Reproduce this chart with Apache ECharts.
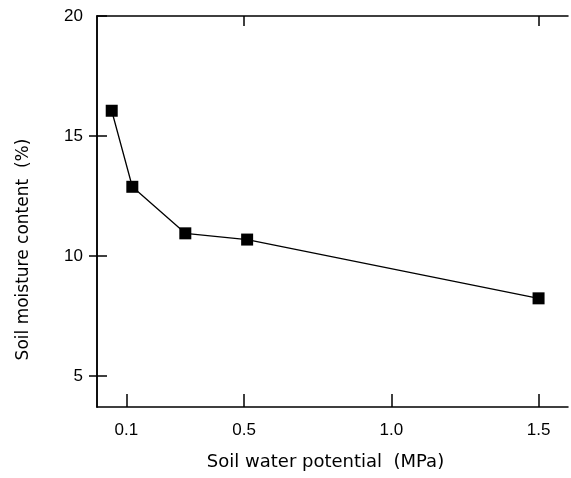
<!DOCTYPE html>
<html>
<head>
<meta charset="utf-8">
<script src="https://cdn.jsdelivr.net/npm/echarts@6/dist/echarts.min.js"></script>
<style>
  html, body { margin: 0; padding: 0; background: #fff; }
  #chart { width: 571px; height: 478px; }
</style>
</head>
<body>
<div id="chart"></div>
<script>
  // soil water potential (MPa) vs soil moisture content (%)
  var potential = [0.05, 0.12, 0.3, 0.51, 1.5];
  var moisture = [16.05, 12.88, 10.94, 10.68, 8.23];
  var xTicks = [0.1, 0.5, 1.0, 1.5];
  var xTopTicks = [0.5, 1.5];
  var yTicks = [5, 10, 15, 20];

  var points = potential.map(function (p, i) { return [p, moisture[i]]; });
  var font = 'Liberation Sans, Arial, sans-serif';
  var nameFont = 'DejaVu Sans, sans-serif';

  var chart = echarts.init(document.getElementById('chart'));
  chart.setOption({
    animation: false,
    grid: { left: 97, right: 3, top: 16, bottom: 71 },
    xAxis: [
      {
        type: 'value', min: 0, max: 1.6,
        name: 'Soil water potential  (MPa)',
        nameLocation: 'middle', nameGap: 46,
        nameTextStyle: { color: '#000', fontSize: 18, fontFamily: nameFont, padding: [0, 14, 0, 0] },
        axisLine: { lineStyle: { color: '#000', width: 1.5 } },
        axisTick: { inside: true, length: 13, customValues: xTicks, lineStyle: { color: '#000', width: 1.5 } },
        axisLabel: {
          customValues: xTicks, margin: 15, color: '#000', fontSize: 17, fontFamily: font,
          formatter: function (v) { return v.toFixed(1); }
        },
        splitLine: { show: false }
      },
      {
        type: 'value', min: 0, max: 1.6, position: 'top',
        axisLine: { lineStyle: { color: '#000', width: 1.5 } },
        axisTick: { inside: true, length: 10, customValues: xTopTicks, lineStyle: { color: '#000', width: 1.5 } },
        axisLabel: { show: false },
        splitLine: { show: false }
      }
    ],
    yAxis: [
      {
        type: 'value', min: 3.7, max: 20,
        name: 'Soil moisture content  (%)',
        nameLocation: 'middle', nameGap: 65,
        nameTextStyle: { color: '#000', fontSize: 17, fontFamily: nameFont, padding: [0, 76, 0, 0] },
        axisLine: { lineStyle: { color: '#000', width: 1.5 } },
        axisTick: { inside: true, length: 10, customValues: yTicks, lineStyle: { color: '#000', width: 1.5 } },
        axisLabel: { customValues: yTicks, margin: 14, color: '#000', fontSize: 17, fontFamily: font },
        splitLine: { show: false }
      },
      {
        type: 'value', min: 3.7, max: 20, position: 'right',
        axisLine: { lineStyle: { color: '#000', width: 1.5 } },
        axisTick: { inside: true, length: 8, customValues: [5, 10, 15], lineStyle: { color: '#000', width: 1.5 } },
        axisLabel: { show: false },
        splitLine: { show: false }
      }
    ],
    series: [
      {
        type: 'line',
        data: points,
        symbol: 'rect',
        symbolSize: 12,
        itemStyle: { color: '#000' },
        lineStyle: { color: '#000', width: 1.3 }
      }
    ]
  });
</script>
</body>
</html>
